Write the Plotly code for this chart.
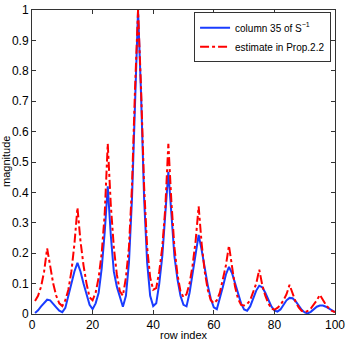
import plotly.graph_objects as go

# row indices 1..100
rows = list(range(1, 101))

# column 35 of S^-1
column_35 = [
    0.003, 0.012, 0.025, 0.038, 0.047, 0.045, 0.035, 0.022, 0.011, 0.006,
    0.020, 0.060, 0.100, 0.140, 0.168, 0.140, 0.100, 0.060, 0.030, 0.016,
    0.035, 0.070, 0.150, 0.270, 0.420, 0.260, 0.140, 0.090, 0.055, 0.024,
    0.060, 0.170, 0.380, 0.720, 1.000, 0.720, 0.380, 0.170, 0.060, 0.026,
    0.035, 0.100, 0.190, 0.330, 0.468, 0.330, 0.190, 0.115, 0.060, 0.030,
    0.025, 0.070, 0.130, 0.200, 0.260, 0.210, 0.150, 0.095, 0.050, 0.022,
    0.016, 0.050, 0.090, 0.130, 0.155, 0.135, 0.100, 0.065, 0.035, 0.015,
    0.011, 0.025, 0.050, 0.077, 0.093, 0.088, 0.070, 0.047, 0.025, 0.012,
    0.008, 0.015, 0.030, 0.045, 0.053, 0.052, 0.042, 0.028, 0.014, 0.005,
    0.002, 0.007, 0.016, 0.024, 0.028, 0.028, 0.024, 0.017, 0.010, 0.006,
]

# estimate from Prop. 2.2
estimate = [
    0.043, 0.060, 0.090, 0.140, 0.216, 0.150, 0.100, 0.060, 0.035, 0.026,
    0.045, 0.080, 0.140, 0.230, 0.350, 0.240, 0.160, 0.100, 0.055, 0.045,
    0.070, 0.120, 0.200, 0.330, 0.560, 0.360, 0.220, 0.130, 0.075, 0.060,
    0.120, 0.220, 0.420, 0.740, 1.000, 0.740, 0.420, 0.220, 0.120, 0.080,
    0.085, 0.140, 0.220, 0.350, 0.560, 0.370, 0.220, 0.130, 0.075, 0.055,
    0.065, 0.100, 0.160, 0.240, 0.354, 0.230, 0.140, 0.080, 0.045, 0.035,
    0.045, 0.070, 0.110, 0.160, 0.225, 0.150, 0.090, 0.050, 0.030, 0.028,
    0.033, 0.045, 0.070, 0.100, 0.146, 0.095, 0.060, 0.035, 0.018, 0.014,
    0.020, 0.030, 0.045, 0.065, 0.096, 0.065, 0.040, 0.022, 0.010, 0.006,
    0.010, 0.018, 0.030, 0.045, 0.063, 0.045, 0.030, 0.018, 0.010, 0.006,
]

x_ticks = [0, 20, 40, 60, 80, 100]
y_ticks = [0, 0.1, 0.2, 0.3, 0.4, 0.5, 0.6, 0.7, 0.8, 0.9, 1]
y_labels = ["0", "0.1", "0.2", "0.3", "0.4", "0.5", "0.6", "0.7", "0.8", "0.9", "1"]

fig = go.Figure()
fig.add_trace(go.Scatter(x=rows, y=column_35, mode="lines",
                         name="column 35 of S<sup>\u22121</sup>",
                         line=dict(color="#1a3cff", width=2)))
fig.add_trace(go.Scatter(x=rows, y=estimate, mode="lines",
                         name="estimate in Prop.2.2",
                         line=dict(color="#ff0000", width=2, dash="dashdot")))

axis_style = dict(showgrid=False, zeroline=False, showline=True, mirror="ticks",
                  linecolor="#333", linewidth=1, ticks="inside", ticklen=4,
                  tickcolor="#333", automargin=False,
                  tickfont=dict(size=12, color="black"))

fig.update_layout(
    width=346, height=346,
    margin=dict(l=32, r=11, t=10, b=32),
    plot_bgcolor="white", paper_bgcolor="white",
    font=dict(family="Liberation Sans, Arial, sans-serif", size=11, color="black"),
    xaxis=dict(range=[0, 100], tickvals=x_ticks, **axis_style),
    yaxis=dict(range=[0, 1], tickvals=y_ticks, ticktext=y_labels, **axis_style),
    legend=dict(x=0.987, y=0.993, xanchor="right", yanchor="top",
                bgcolor="white", bordercolor="#333", borderwidth=1,
                itemwidth=30, font=dict(size=10), tracegroupgap=0),
)

# axis titles placed like the MATLAB figure
fig.add_annotation(text="row index", xref="paper", yref="paper", x=0.5, y=0,
                   yanchor="top", yshift=-13, showarrow=False, font=dict(size=11))
fig.add_annotation(text="magnitude", xref="paper", yref="paper", x=0, y=0.5,
                   xanchor="right", xshift=-18, textangle=-90, showarrow=False,
                   font=dict(size=11))

# drop the page's default body margin so the figure sits at the top-left corner
fig.write_html("out.html", config={"displayModeBar": False},
               post_script="document.body.style.margin='0';")
